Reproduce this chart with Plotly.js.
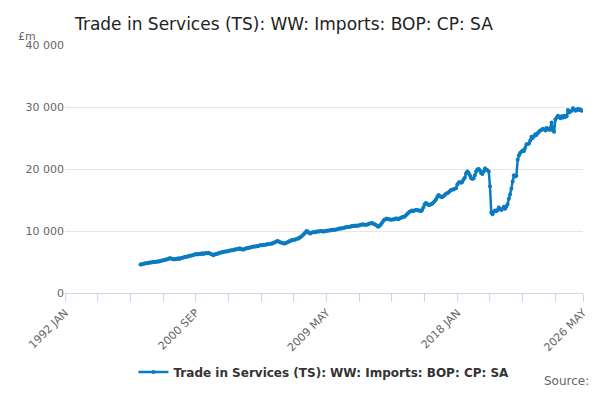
<!DOCTYPE html>
<html>
<head>
<meta charset="utf-8">
<script src="https://cdn.plot.ly/plotly-3.0.1.min.js"></script>
<style>body{margin:0}#chart{width:600px;height:400px}</style>
</head>
<body>
<div id="chart"></div>
<script>
// monthly values, £bn (converted to £m below), Jan 1997 onwards
const startYear = 1997;
const valuesBn = [
  4.6,4.6,4.7,4.7,4.8,4.8,4.8,4.9,4.9,4.9,5.0,5.0,
  5.0,5.1,5.1,5.1,5.2,5.2,5.3,5.3,5.4,5.4,5.5,5.6,
  5.6,5.5,5.5,5.4,5.5,5.5,5.6,5.5,5.6,5.7,5.7,5.8,
  5.8,5.9,5.9,6.0,6.0,6.1,6.1,6.2,6.3,6.2,6.3,6.3,
  6.3,6.4,6.3,6.4,6.4,6.4,6.5,6.4,6.3,6.2,6.1,6.2,
  6.3,6.3,6.4,6.5,6.5,6.6,6.6,6.7,6.7,6.7,6.8,6.8,
  6.9,6.9,6.9,7.0,7.0,7.1,7.1,7.2,7.1,7.0,7.0,7.1,
  7.2,7.2,7.3,7.3,7.4,7.4,7.5,7.5,7.5,7.6,7.6,7.7,
  7.7,7.7,7.8,7.8,7.8,7.9,7.9,7.9,8.0,8.0,8.1,8.2,
  8.3,8.4,8.3,8.2,8.1,8.1,8.0,8.0,8.1,8.2,8.3,8.4,
  8.5,8.5,8.6,8.6,8.7,8.8,8.8,9.0,9.1,9.3,9.5,9.7,
  10.0,9.9,9.7,9.6,9.7,9.8,9.8,9.8,9.9,9.9,9.9,10.0,
  10.0,9.9,9.9,10.0,10.0,10.1,10.1,10.1,10.2,10.2,10.2,10.2,
  10.3,10.3,10.4,10.4,10.4,10.5,10.5,10.6,10.6,10.7,10.7,10.7,
  10.8,10.8,10.8,10.9,10.8,10.9,10.9,11.0,11.0,11.1,11.0,11.0,
  11.0,11.1,11.2,11.2,11.3,11.2,11.1,11.0,10.9,10.7,10.8,11.0,
  11.3,11.6,11.8,11.9,12.0,11.9,11.9,11.8,11.8,11.9,11.9,12.0,
  12.0,11.9,12.0,12.1,12.2,12.3,12.3,12.5,12.7,12.9,13.1,13.2,
  13.3,13.2,13.3,13.4,13.4,13.3,13.3,13.2,13.4,13.8,14.3,14.5,
  14.4,14.2,14.2,14.3,14.4,14.6,14.8,15.1,15.5,15.8,15.7,15.5,
  15.5,15.6,15.8,16.0,16.1,16.2,16.4,16.6,16.7,16.7,16.8,16.9,
  17.5,17.8,17.9,17.8,17.9,18.3,18.6,19.3,19.6,19.4,19.0,18.5,
  18.4,18.5,19.0,19.6,19.9,20.0,19.8,19.3,19.2,19.6,20.1,19.9,
  19.8,19.6,17.2,13.0,12.7,13.1,13.3,13.2,13.4,13.8,13.5,13.4,
  13.6,13.9,13.6,13.9,14.3,15.2,15.9,16.8,18.0,19.0,18.8,18.9,
  21.5,22.2,22.6,22.8,23.0,22.9,23.4,24.0,24.0,24.1,24.6,25.2,
  25.0,25.3,25.6,25.5,25.8,26.0,26.2,26.3,26.5,26.4,26.2,26.6,
  26.5,26.3,26.6,27.5,26.2,26.0,28.0,28.3,28.6,28.4,28.2,28.5,
  28.3,28.6,28.4,28.5,29.5,29.1,29.3,29.4,29.8,29.6,29.4,29.5,
  29.7,29.5,29.6,29.4
];
const tickVals = ['1992-01-01','1994-03-01','1996-05-01','1998-07-01','2000-09-01','2002-11-01','2005-01-01','2007-03-01','2009-05-01','2011-07-01','2013-09-01','2015-11-01','2018-01-01','2020-03-01','2022-05-01','2024-07-01','2026-05-01'];
const tickText = ['1992 JAN','','','','2000 SEP','','','','2009 MAY','','','','2018 JAN','','','','2026 MAY'];
const seriesName = 'Trade in Services (TS): WW: Imports: BOP: CP: SA';

const dates = valuesBn.map((v, i) => {
  const y = startYear + Math.floor(i / 12), m = i % 12 + 1;
  return y + '-' + String(m).padStart(2, '0') + '-01';
});
const values = valuesBn.map(v => Math.round(v * 1000));

Plotly.newPlot('chart', [{
  x: dates, y: values, name: '<b>' + seriesName + '</b>',
  type: 'scatter', mode: 'lines+markers',
  line: { color: '#0b7bc1', width: 2.5 },
  marker: { color: '#0b7bc1', size: 4 }
}], {
  width: 600, height: 400,
  separators: '. ',
  font: { family: 'DejaVu Sans, sans-serif', color: '#333' },
  title: { text: seriesName, x: 0.125, xanchor: 'left', y: 0.955, font: { size: 17, color: '#222' } },
  margin: { l: 65, r: 17, t: 45, b: 107 },
  showlegend: true,
  legend: { orientation: 'h', x: 0.5, xanchor: 'center', y: -0.26, font: { size: 12, color: '#333' } },
  xaxis: {
    type: 'date', range: ['1992-01-01', '2026-05-01'],
    tickmode: 'array', tickvals: tickVals, ticktext: tickText,
    tickangle: -45, ticks: 'outside', ticklen: 8, tickcolor: '#ccd6eb',
    showgrid: false, showline: true, linecolor: '#ccd6eb',
    tickfont: { size: 11, color: '#666' }
  },
  yaxis: {
    range: [0, 40000], tickvals: [0, 10000, 20000, 30000, 40000], tickformat: ',d',
    gridcolor: '#e6e6e6', zeroline: false, ticks: '',
    tickfont: { size: 11, color: '#666' }
  },
  annotations: [
    { text: '£m', xref: 'paper', yref: 'paper', x: -0.095, y: 1.07, xanchor: 'left', showarrow: false, font: { size: 11, color: '#666' } },
    { text: 'Source:', xref: 'paper', yref: 'paper', x: 1.015, y: -0.39, xanchor: 'right', showarrow: false, font: { size: 12, color: '#666' } }
  ]
}, { displayModeBar: false });
</script>
</body>
</html>
